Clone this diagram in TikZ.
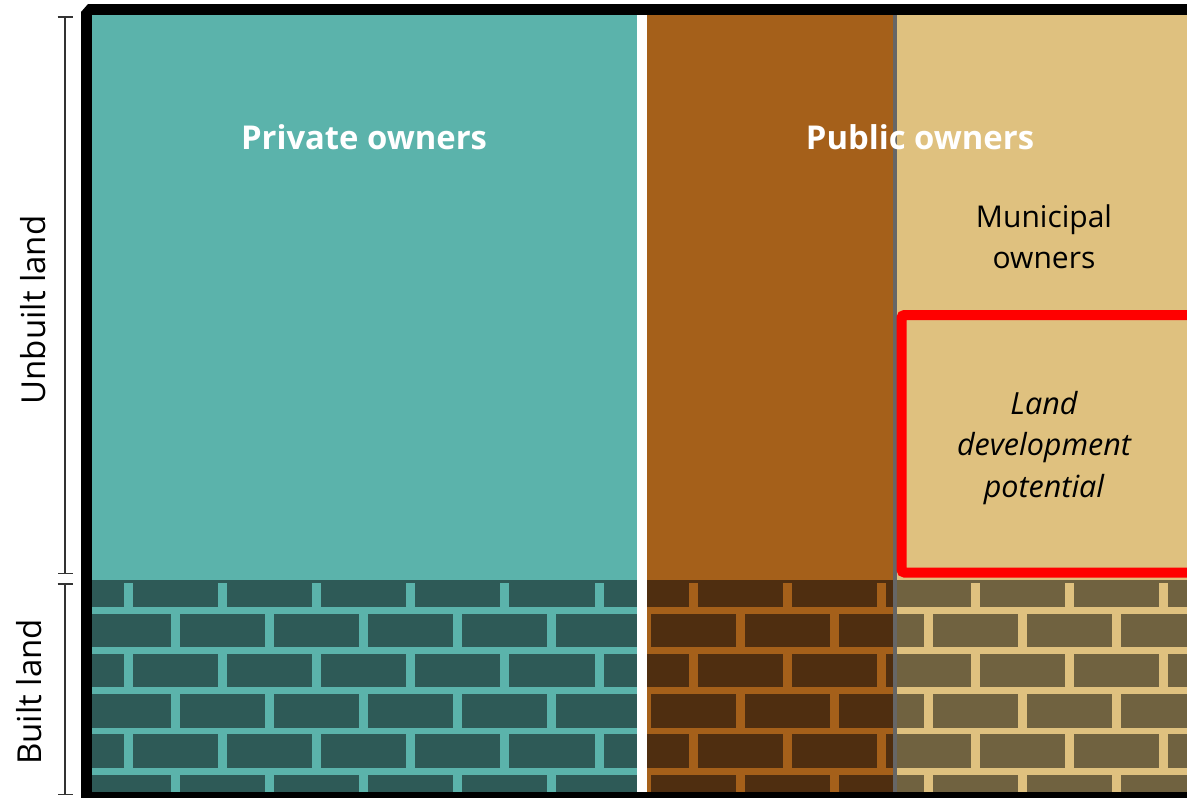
\documentclass[tikz,border=0pt]{standalone}
\usepackage{fontspec}
\setmainfont{Open Sans}
\usetikzlibrary{arrows.meta}
\definecolor{tealup}{HTML}{5BB3AB}
\definecolor{tealbrick}{HTML}{2E5A57}
\definecolor{brownup}{HTML}{A5601A}
\definecolor{brownbrick}{HTML}{4F2E10}
\definecolor{tanup}{HTML}{DFC17F}
\definecolor{tanbrick}{HTML}{706240}
\definecolor{divgray}{HTML}{666666}
\definecolor{brk}{HTML}{333333}
\newcommand\brickwall[4]{%
  \begin{scope}
    \clip (#1,580) rectangle (#2,792);
    \fill[#4] (#1,580) rectangle (#2,792);
    \foreach \i in {0,...,4} {\fill[#3] (#1,607+40.2*\i) rectangle (#2,613.8+40.2*\i);}
    \foreach \k in {-1,...,12} {
      \fill[#3] (124+94.1*\k,583) rectangle (133+94.1*\k,607.5);
      \fill[#3] (124+94.1*\k,653.5) rectangle (133+94.1*\k,687.8);
      \fill[#3] (124+94.1*\k,734) rectangle (133+94.1*\k,768.2);
      \fill[#3] (171+94.1*\k,613.4) rectangle (180+94.1*\k,647.6);
      \fill[#3] (171+94.1*\k,693.8) rectangle (180+94.1*\k,728);
      \fill[#3] (171+94.1*\k,774.2) rectangle (180+94.1*\k,792);
    }
  \end{scope}}
\tikzset{
  title/.style={text=white, font=\fontsize{32.8}{38}\selectfont\bfseries, inner sep=0pt},
  plainlabel/.style={text=black, font=\fontsize{30}{41}\selectfont, align=center, inner sep=0pt},
  itlabel/.style={text=black, font=\fontsize{30.5}{41.5}\selectfont\itshape, align=center, inner sep=0pt},
  sidelabel/.style={text=black, font=\fontsize{33}{38}\selectfont, rotate=90, inner sep=0pt},
  bracket/.style={draw=brk, line width=1.5pt, {Bar[width=15pt]}-{Bar[width=15pt]}},
}
\begin{document}
\begin{tikzpicture}[x=1pt,y=-1pt]
\useasboundingbox (0,0) rectangle (1187,798);
% frame
\fill[black] (81,798) -- (81,12) -- (88,4) -- (1187,4) -- (1187,798) -- cycle;
% upper areas
\fill[tealup] (92,15) rectangle (637,580);
\fill[brownup] (647,15) rectangle (893,580);
\fill[tanup] (897,15) rectangle (1187,580);
% brick walls
\brickwall{92}{637}{tealup}{tealbrick}
\brickwall{647}{893}{brownup}{brownbrick}
\brickwall{897}{1187}{tanup}{tanbrick}
% dividers
\fill[white] (637,15) rectangle (647,792);
\fill[divgray] (893,15) rectangle (897,792);
% red box
\draw[red, line width=10pt, rounded corners=3pt] (901.5,315) rectangle (1196,572.5);
% texts
\node[title] (priv) at (364,137) {Private owners};
\node[title] (pub) at (920,137) {Public owners};
\node[plainlabel] (muni) at (1044,237) {Municipal\\owners};
\node[itlabel] (ldp) at (1044,448) {Land\\development\\potential};
\node[sidelabel] (unb) at (33,310) {Unbuilt land};
\node[sidelabel] (blt) at (29,692) {Built land};
% brackets
\coordinate (ua) at (65,16);
\coordinate (ub) at (65,574);
\coordinate (ba) at (65,583);
\coordinate (bb) at (65,795);
\draw[bracket] (ua) -- (ub);
\draw[bracket] (ba) -- (bb);
\end{tikzpicture}
\end{document}
